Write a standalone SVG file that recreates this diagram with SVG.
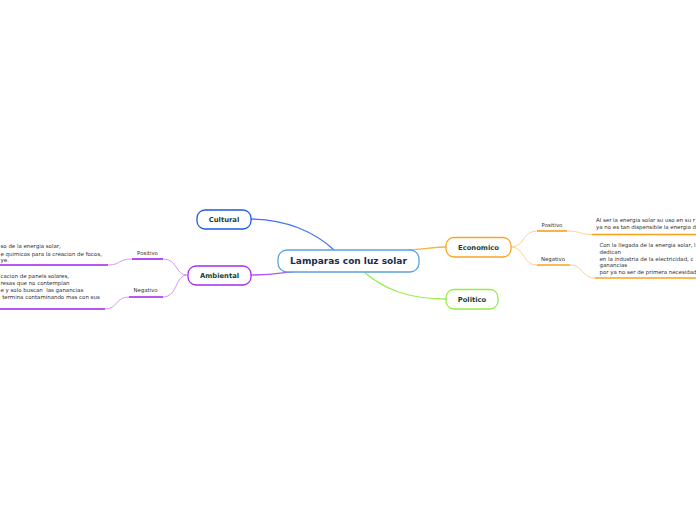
<svg xmlns="http://www.w3.org/2000/svg" width="696" height="520" viewBox="0 0 696 520">
<style>
.node{fill:#fff;stroke-width:1.3}
.main{font-family:"DejaVu Sans",Verdana,sans-serif;font-weight:bold;font-size:9px;fill:#1b2b4e;text-anchor:middle}
.lbl{font-family:"DejaVu Sans",Verdana,sans-serif;font-weight:bold;font-size:6.8px;fill:#173f35;text-anchor:middle}
.sub{font-family:"DejaVu Sans",Verdana,sans-serif;font-size:5.4px;fill:#333;text-anchor:middle}
.txt{font-family:"DejaVu Sans",Verdana,sans-serif;font-size:5.45px;fill:#2e2e2e}
</style>
<rect width="696" height="520" fill="#fff"/>
<g id="connectors" fill="none">
<path d="M251,219 C285,219 315,232 334,250" stroke="#3f72f2" stroke-width="1.3"/>
<path d="M251,275 C275,275 285,272 300,271" stroke="#b055ee" stroke-width="1.3"/>
<path d="M408,250 C425,249 435,247 446,247" stroke="#f7b04a" stroke-width="1.3"/>
<path d="M364,272 C385,290 410,299 446,299" stroke="#98f048" stroke-width="1.3"/>
<path d="M187,275 C175,275 178,259 163,259" stroke="#d79cf2" stroke-width="1"/>
<path d="M187,275 C175,275 178,297 163,297" stroke="#d79cf2" stroke-width="1"/>
<path d="M163,259 H132" stroke="#a020f0" stroke-width="1.6"/>
<path d="M163,297 H129" stroke="#a020f0" stroke-width="1.6"/>
<path d="M132,259 C118,259 121,265 108,265" stroke="#d79cf2" stroke-width="1"/>
<path d="M129,297 C115,297 118,309 105,309" stroke="#d79cf2" stroke-width="1"/>
<path d="M108,265 H0" stroke="#a020f0" stroke-width="1.6"/>
<path d="M105,309 H0" stroke="#a020f0" stroke-width="1.6"/>
<path d="M511,247 C525,247 522,231 537,231" stroke="#fdd28e" stroke-width="1"/>
<path d="M511,247 C525,247 522,265 537,265" stroke="#fdd28e" stroke-width="1"/>
<path d="M537,231 H567" stroke="#f7a21c" stroke-width="1.6"/>
<path d="M537,265 H570" stroke="#f7a21c" stroke-width="1.6"/>
<path d="M567,231 C580,231 580,234.5 592,234.5" stroke="#fdd28e" stroke-width="1"/>
<path d="M570,265 C583,265 582,278 595,278" stroke="#fdd28e" stroke-width="1"/>
<path d="M592,234.5 H696" stroke="#f7a21c" stroke-width="1.6"/>
<path d="M595,278 H696" stroke="#f7a21c" stroke-width="1.6"/>
</g>
<g id="central">
<rect class="node" x="278" y="250" width="141" height="22" rx="9" stroke="#5ea3dc"/>
<text class="main" x="348.5" y="264.2">Lamparas con luz solar</text>
</g>
<g id="cultural">
<rect class="node" x="197" y="210" width="54" height="19" rx="8" stroke="#1f58df"/>
<text class="lbl" x="224" y="222">Cultural</text>
</g>
<g id="ambiental">
<rect class="node" x="188" y="266" width="63" height="19" rx="8" stroke="#a52ee8"/>
<text class="lbl" x="219.5" y="278">Ambiental</text>
</g>
<g id="economico">
<rect class="node" x="446" y="237.5" width="65" height="19.5" rx="8" stroke="#f5a425"/>
<text class="lbl" x="478.5" y="249.7">Economico</text>
</g>
<g id="politico">
<rect class="node" x="446" y="289.5" width="52" height="19.5" rx="8" stroke="#93ef3e"/>
<text class="lbl" x="472" y="301.7">Politico</text>
</g>
<g id="amb-positivo">
<text class="sub" x="147.5" y="255">Positivo</text>
</g>
<g id="amb-negativo">
<text class="sub" x="145.5" y="292">Negativo</text>
</g>
<g id="amb-positivo-text">
<text class="txt" x="0.5" y="247.5">so de la energia solar,</text>
<text class="txt" x="0.5" y="255.5">e quimicos para la creacion de focos,</text>
<text class="txt" x="0.5" y="261.5">ye.</text>
</g>
<g id="amb-negativo-text">
<text class="txt" x="0.5" y="277.5">cacion de panels solares,</text>
<text class="txt" x="0.5" y="284.5">resas que no contemplan</text>
<text class="txt" x="0.5" y="291.5" xml:space="preserve">e y solo buscan  las ganancias</text>
<text class="txt" x="0.5" y="298.5" xml:space="preserve"> termina contaminando mas con sus</text>
</g>
<g id="eco-positivo">
<text class="sub" x="552" y="227">Positivo</text>
</g>
<g id="eco-negativo">
<text class="sub" x="553" y="261">Negativo</text>
</g>
<g id="eco-positivo-text">
<text class="txt" x="596" y="222.2">Al ser la energia solar su uso en su r</text>
<text class="txt" x="596" y="228.8">ya no es tan dispensible la energia d</text>
</g>
<g id="eco-negativo-text">
<text class="txt" x="599.5" y="247.3">Con la llegada de la energia solar, l</text>
<text class="txt" x="599.5" y="254">dedican</text>
<text class="txt" x="599.5" y="260.5">en la industria de la electricidad, c</text>
<text class="txt" x="599.5" y="267">ganancias</text>
<text class="txt" x="599.5" y="273.5">por ya no ser de primera necesidad</text>
</g>
</svg>
